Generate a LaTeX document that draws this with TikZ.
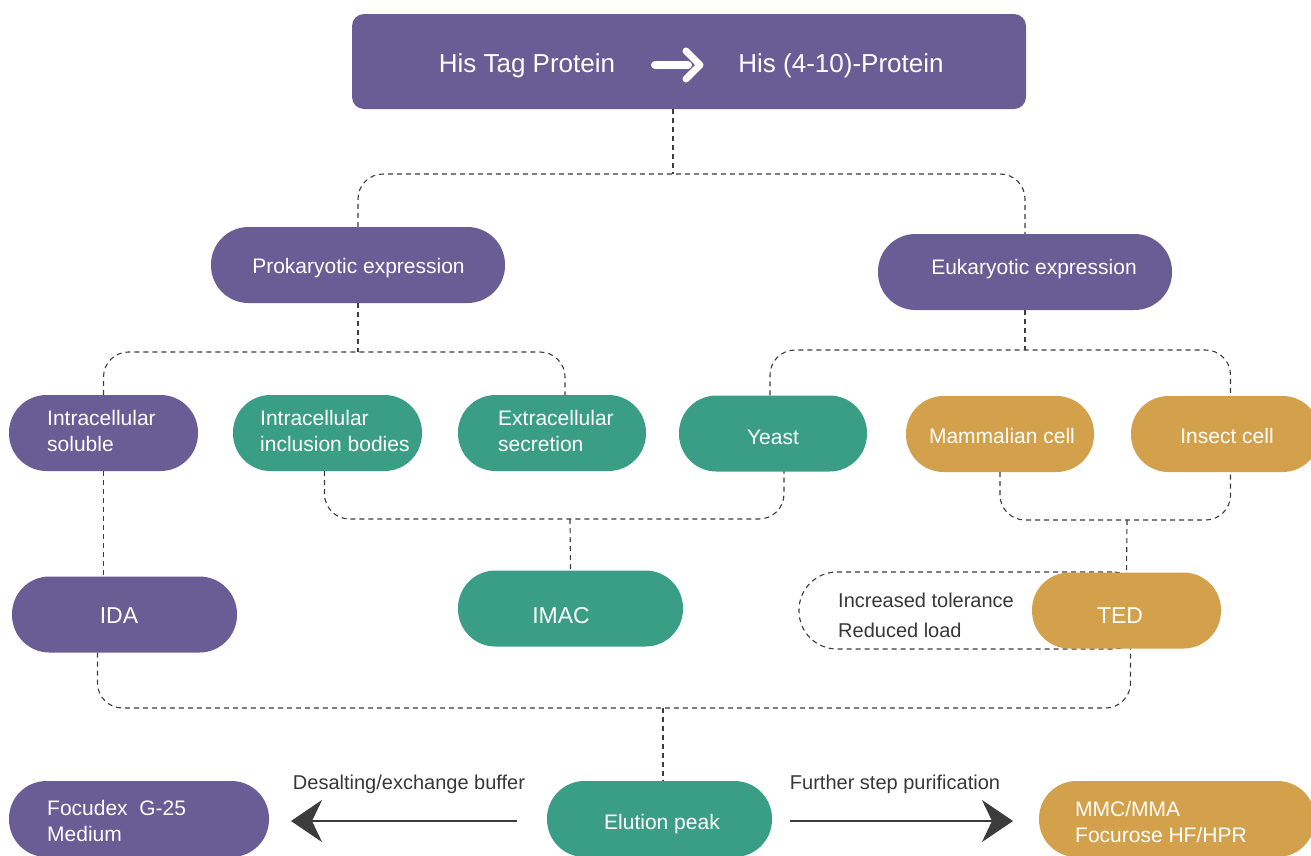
\documentclass[tikz,border=0pt]{standalone}
\usepackage{fontspec}
\setmainfont{Liberation Sans}
\usetikzlibrary{arrows.meta}
\definecolor{cpur}{RGB}{104,93,148}
\definecolor{cgrn}{RGB}{58,158,135}
\definecolor{corg}{RGB}{211,160,75}
\definecolor{cline}{RGB}{60,60,60}
\definecolor{ctxt}{RGB}{55,55,55}
\begin{document}
\begin{tikzpicture}[x=1pt,y=-1pt,
 pill/.style={rectangle, rounded corners=37.5pt, fill=#1, draw=none, minimum height=76pt, inner sep=0pt, text=white, font=\fontsize{21}{26}\selectfont},
 conn/.style={draw=cline, line width=1.1pt, dash pattern=on 5pt off 4pt},
 wlbl/.style={text=white, font=\fontsize{21}{26}\selectfont, align=left, inner sep=0pt, anchor=west},
 dlbl/.style={text=ctxt, font=\fontsize{20}{30}\selectfont, inner sep=0pt},
 bigarrow/.style={draw=cline, line width=2.2pt, -{Stealth[length=31pt,width=42pt,inset=10pt]}},
]
\useasboundingbox (0,0) rectangle (1311,855);
\clip (0,0) rectangle (1311,855);

% top box
\node[rectangle, rounded corners=12pt, fill=cpur, minimum width=674pt, minimum height=95pt, inner sep=0pt] (top) at (689,61.5) {};
\node[text=white, font=\fontsize{26}{30}\selectfont, inner sep=0pt] (t1) at (527,66) {His Tag Protein};
\node[text=white, font=\fontsize{26}{30}\selectfont, inner sep=0pt] (t2) at (841,66) {His (4-10)-Protein};
\draw[white, line width=8pt, line cap=round] (655,65) -- (688,65);
\draw[white, line width=7pt, line cap=round, line join=round] (686,51) -- (700,65) -- (686,79);

% level 2
\node[pill=cpur, minimum width=294pt] (prok) at (358,265) {};
\node[wlbl, anchor=center] (prokT) at (358.5,268) {Prokaryotic expression};
\node[pill=cpur, minimum width=294pt] (euk) at (1025,272) {};
\node[wlbl, anchor=center] (eukT) at (1034,269) {Eukaryotic expression};

% level 3
\node[pill=cpur, minimum width=189pt] (soluble) at (103.5,433) {};
\node[wlbl] (solubleT) at (47,431) {Intracellular\\soluble};
\node[pill=cgrn, minimum width=189pt] (incl) at (327.5,433) {};
\node[wlbl] (inclT) at (260,431) {Intracellular\\inclusion bodies};
\node[pill=cgrn, minimum width=188pt] (extra) at (552,433) {};
\node[wlbl] (extraT) at (498,431) {Extracellular\\secretion};
\node[pill=cgrn, minimum width=188pt] (yeast) at (773,433.5) {};
\node[wlbl, anchor=center] (yeastT) at (773,437) {Yeast};
\node[pill=corg, minimum width=188pt] (mammal) at (1000,434) {};
\node[wlbl, anchor=center] (mammalT) at (1002,436) {Mammalian cell};
\node[pill=corg, minimum width=189pt] (insect) at (1225.5,434) {};
\node[wlbl, anchor=center] (insectT) at (1227,436) {Insect cell};

% level 4
\node[pill=cpur, minimum width=225pt] (ida) at (124.5,614.5) {};
\node[wlbl, anchor=center, font=\fontsize{23}{26}\selectfont] (idaT) at (119,616) {IDA};
\node[pill=cgrn, minimum width=225pt] (imac) at (570.5,608.5) {};
\node[wlbl, anchor=center, font=\fontsize{23}{26}\selectfont] (imacT) at (561,616) {IMAC};
\node[rectangle, rounded corners=38pt, conn, minimum width=351pt, minimum height=77pt] (tolbox) at (974.5,610.5) {};
\node[pill=corg, minimum width=189pt] (ted) at (1126.5,610.5) {};
\node[wlbl, anchor=center, font=\fontsize{23}{26}\selectfont] (tedT) at (1120,616) {TED};
\node[dlbl, anchor=west] (tol1) at (838,600) {Increased tolerance};
\node[dlbl, anchor=west] (tol2) at (838,630) {Reduced load};

% bottom
\node[pill=cpur, minimum width=260pt] (focu) at (139,819) {};
\node[wlbl] (focuT) at (47,821) {Focudex\ \ G-25\\Medium};
\node[pill=cgrn, minimum width=225pt] (elut) at (659.5,819) {};
\node[wlbl, anchor=center] (elutT) at (662,824) {Elution peak};
\node[pill=corg, minimum width=276pt] (mmc) at (1177,819) {};
\node[wlbl] (mmcT) at (1075,822) {MMC/MMA\\Focurose HF/HPR};

\node[dlbl] (desT) at (409,784) {Desalting/exchange buffer};
\node[dlbl] (furT) at (895,784) {Further step purification};
\coordinate (aL1) at (517,821);
\coordinate (aL2) at (291,821);
\coordinate (aR1) at (790,821);
\coordinate (aR2) at (1013,821);
\draw[bigarrow] (aL1) -- (aL2);
\draw[bigarrow] (aR1) -- (aR2);

% connectors
\coordinate (j1) at (673,174);
\draw[conn] (j1 |- top.south) -- (j1);
\draw[conn, rounded corners=25pt] (prok.north) |- (j1) -| (euk.north);

\coordinate (j2) at (358,352);
\draw[conn] (prok.south) -- (j2);
\draw[conn, rounded corners=25pt] (soluble.north) |- (j2) -| ([xshift=13pt]extra.north);

\coordinate (j3) at (1025,350);
\draw[conn] (euk.south) -- (j3);
\draw[conn, rounded corners=25pt] ([xshift=-3pt]yeast.north) |- (j3) -| ([xshift=5pt]insect.north);

\draw[conn] (soluble.south) -- (soluble.south |- ida.north);

\coordinate (j4) at (570,519);
\draw[conn, rounded corners=25pt] ([xshift=-3pt]incl.south) |- (j4) -| ([xshift=11pt]yeast.south);
\draw[conn] (j4) -- (imac.north);

\coordinate (j5) at (1127,520);
\draw[conn, rounded corners=25pt] (mammal.south) |- (j5) -| ([xshift=5pt]insect.south);
\draw[conn] (j5) -- (ted.north);

\coordinate (j6) at (663,708);
\draw[conn, rounded corners=25pt] ([xshift=-27pt]ida.south) |- (j6) -| ([xshift=4pt]ted.south);
\draw[conn] (j6) -- (j6 |- elut.north);
\end{tikzpicture}
\end{document}
